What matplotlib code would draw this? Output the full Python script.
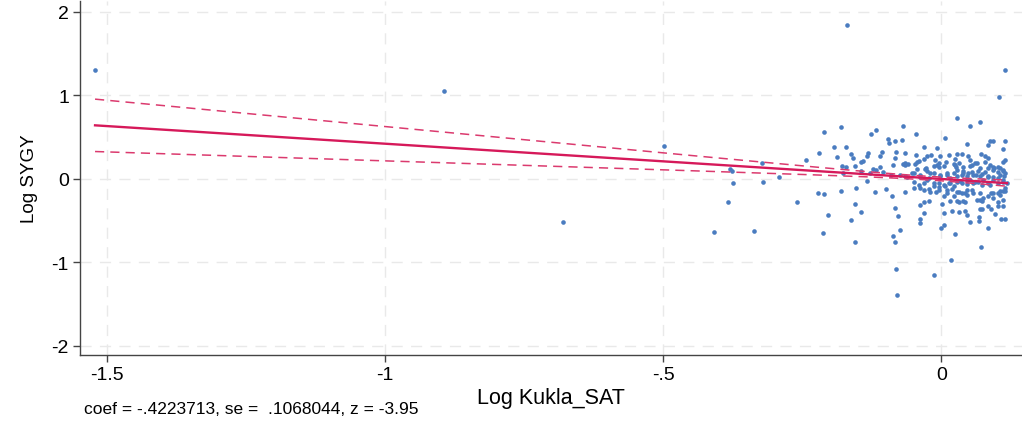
import numpy as np
import matplotlib
matplotlib.use("Agg")
import matplotlib.pyplot as plt

plt.rcParams['font.family'] = ['Liberation Sans', 'DejaVu Sans']

# residual scatter (added-variable plot)
x_vals = [
    -1.521, -0.894, -0.680, -0.499, -0.408, -0.336, -0.384, -0.259, -0.323, -0.379,
    -0.377, -0.375, -0.320, -0.291, -0.169, 0.115, 0.104, 0.029, 0.052, 0.070,
    -0.180, -0.210, -0.126, -0.118, -0.068, -0.045, 0.007, 0.088, 0.092, 0.115,
    -0.095, -0.094, -0.083, -0.071, 0.047, 0.083, -0.193, -0.171, -0.032, -0.007,
    0.110, -0.219, -0.187, -0.163, -0.158, -0.131, -0.133, -0.107, -0.111, -0.081,
    -0.083, -0.066, -0.046, -0.019, -0.025, -0.002, 0.014, 0.029, 0.038, 0.048,
    0.072, 0.079, 0.083, 0.115, 0.111, -0.244, -0.031, -0.011, 0.025, 0.052,
    -0.178, -0.171, -0.156, -0.144, -0.141, -0.111, -0.118, -0.123, -0.145, -0.176,
    -0.129, -0.086, -0.068, -0.059, -0.043, -0.043, -0.029, -0.025, -0.013, -0.007,
    -0.004, 0.009, 0.025, 0.032, 0.027, 0.039, 0.052, 0.061, 0.066, 0.083,
    0.092, 0.095, 0.106, 0.111, 0.113, -0.104, -0.090, -0.065, -0.050, -0.038,
    -0.025, -0.020, -0.002, 0.011, 0.022, 0.029, 0.039, 0.047, 0.052, 0.057,
    0.070, 0.075, 0.084, 0.093, 0.102, 0.110, 0.101, 0.084, 0.074, 0.061,
    0.047, 0.034, 0.023, 0.014, -0.221, -0.210, -0.180, -0.153, -0.133, -0.120,
    -0.099, -0.089, -0.066, -0.050, -0.039, -0.023, -0.005, -0.009, 0.007, 0.032,
    0.043, 0.056, 0.070, 0.090, 0.106, 0.118, -0.156, -0.144, -0.163, -0.203,
    -0.212, -0.156, -0.084, -0.077, -0.074, -0.086, -0.083, -0.081, -0.079, -0.038,
    -0.039, -0.038, -0.031, -0.031, -0.023, 0.002, 0.004, 0.000, 0.005, 0.016,
    0.020, 0.029, 0.032, 0.039, 0.043, 0.047, 0.052, 0.025, 0.070, 0.074,
    0.068, 0.068, 0.083, 0.074, 0.090, 0.097, 0.102, 0.111, 0.108, 0.115,
    0.084, 0.072, 0.018, -0.014, 0.070, 0.075, 0.083, 0.093, 0.102, 0.110,
    0.101, 0.110, 0.115, 0.038, 0.047, 0.057, 0.029, 0.020, 0.011, -0.005,
    -0.014, -0.032, -0.066, -0.065, -0.047, -0.041, -0.027, -0.005, 0.005, 0.023,
    0.029, 0.039, 0.048, 0.056, 0.063, 0.074, 0.083, 0.093, 0.106, 0.111,
    0.088, 0.066, 0.057, 0.047, 0.038, 0.029, 0.016, 0.004, -0.005, -0.014,
    -0.020, -0.032, -0.041, -0.050, 0.011, 0.022, 0.047, 0.093, 0.106, 0.115,
    0.065, 0.043, 0.031, 0.004, 0.016, 0.038, 0.070, 0.079, 0.092, 0.101,
    0.110, 0.115, 0.102, 0.088, 0.065, 0.056, 0.079, 0.011, -0.002, -0.014,
    -0.023, -0.038, -0.052, -0.061, -0.074,
]
y_vals = [
    1.30, 1.05, -0.51, 0.39, -0.63, -0.62, -0.27, -0.27, 0.19, 0.12,
    0.10, -0.05, -0.04, 0.02, 1.85, 1.30, 0.98, 0.73, 0.63, 0.68,
    0.62, 0.56, 0.54, 0.59, 0.64, 0.54, 0.49, 0.45, 0.45, 0.45,
    0.48, 0.43, 0.45, 0.47, 0.42, 0.41, 0.38, 0.38, 0.38, 0.37,
    0.36, 0.31, 0.26, 0.30, 0.25, 0.31, 0.27, 0.32, 0.28, 0.32,
    0.25, 0.31, 0.29, 0.29, 0.27, 0.27, 0.29, 0.30, 0.30, 0.28,
    0.30, 0.27, 0.25, 0.23, 0.20, 0.23, 0.24, 0.23, 0.24, 0.23,
    0.16, 0.14, 0.15, 0.20, 0.22, 0.14, 0.11, 0.12, 0.10, 0.07,
    0.07, 0.17, 0.18, 0.18, 0.20, 0.12, 0.12, 0.10, 0.16, 0.17,
    0.14, 0.20, 0.17, 0.19, 0.14, 0.10, 0.15, 0.19, 0.09, 0.13,
    0.14, 0.13, 0.13, 0.09, 0.03, 0.08, 0.05, 0.03, 0.07, 0.02,
    -0.01, 0.07, 0.03, 0.05, 0.07, 0.03, 0.07, 0.03, -0.01, 0.05,
    0.03, -0.01, 0.03, -0.01, 0.01, -0.04, -0.05, -0.05, -0.07, -0.04,
    -0.06, -0.03, -0.09, -0.05, -0.17, -0.18, -0.14, -0.11, -0.02, -0.16,
    -0.12, -0.20, -0.16, -0.04, -0.11, -0.12, -0.05, -0.16, -0.08, -0.16,
    -0.17, -0.13, -0.17, -0.17, -0.14, -0.05, -0.30, -0.39, -0.49, -0.43,
    -0.65, -0.75, -0.35, -0.44, -0.61, -0.68, -0.75, -1.08, -1.39, -0.31,
    -0.48, -0.53, -0.41, -0.27, -0.26, -0.30, -0.41, -0.59, -0.55, -0.26,
    -0.38, -0.26, -0.39, -0.26, -0.38, -0.43, -0.51, -0.66, -0.36, -0.36,
    -0.45, -0.50, -0.32, -0.26, -0.36, -0.42, -0.32, -0.32, -0.48, -0.48,
    -0.59, -0.82, -0.97, -1.15, -0.25, -0.23, -0.21, -0.23, -0.27, -0.25,
    -0.17, -0.15, -0.11, -0.17, -0.13, -0.17, -0.16, -0.12, -0.13, -0.10,
    -0.05, -0.05, 0.17, 0.19, 0.18, 0.22, 0.13, 0.19, 0.16, 0.18,
    0.11, 0.14, 0.07, 0.08, 0.05, 0.06, 0.02, 0.02, 0.05, -0.01,
    -0.07, -0.04, -0.05, -0.01, -0.05, -0.04, -0.05, -0.07, -0.13, -0.09,
    -0.16, -0.13, -0.07, -0.11, -0.17, -0.21, -0.19, -0.17, -0.19, -0.15,
    -0.25, -0.27, -0.27, -0.21, 0.01, 0.05, 0.13, 0.08, 0.11, 0.08,
    0.11, 0.07, 0.14, 0.17, 0.19, 0.17, 0.20, 0.07, 0.05, 0.07,
    0.01, 0.05, 0.07, 0.02, 0.05,
]

coef = -0.4223713
se = 0.1068044
z = -3.95
se_at_mean = 0.011   # standard error of the fit at the mean of x

x_ticks = [-1.5, -1, -0.5, 0]
x_ticklabels = ["-1.5", "-1", "-.5", "0"]
y_ticks = [-2, -1, 0, 1, 2]
y_ticklabels = ["-2", "-1", "0", "1", "2"]

x = np.array(x_vals)
y = np.array(y_vals)

fig = plt.figure(figsize=(10.22, 4.27), dpi=100)
ax = fig.add_axes([0.0783, 0.166, 0.9217, 0.829])

ax.scatter(x, y, s=11, marker='o', color='#4a7cc0', linewidths=0, zorder=3)

# fitted line + 95% CI
xs = np.linspace(x.min(), x.max(), 200)
fit = coef * xs
half = 1.96 * np.sqrt(se_at_mean ** 2 + ((xs - x.mean()) * se) ** 2)
ax.plot(xs, fit, color='#d6195a', lw=1.7, zorder=4)
ax.plot(xs, fit + half, color='#db3a6e', lw=1.1, ls=(0, (6, 4)), zorder=4)
ax.plot(xs, fit - half, color='#db3a6e', lw=1.1, ls=(0, (6, 4)), zorder=4)

ax.set_xlim(-1.548, 0.145)
ax.set_ylim(-2.11, 2.13)
ax.set_xticks(x_ticks)
ax.set_xticklabels(x_ticklabels)
ax.set_yticks(y_ticks)
ax.set_yticklabels(y_ticklabels)
ax.grid(True, color='#e9e9e9', lw=1.0, ls=(0, (8, 6)))
ax.set_axisbelow(True)
for s in ['top', 'right']:
    ax.spines[s].set_visible(False)
for s in ['left', 'bottom']:
    ax.spines[s].set_color('#444444')
    ax.spines[s].set_linewidth(1.0)
ax.tick_params(direction='out', length=5, width=1, color='#444444',
               labelsize=14, pad=3)

ax.set_xlabel("Log Kukla_SAT", fontsize=15.5, labelpad=3)
ax.set_ylabel("Log SYGY", fontsize=13.5, labelpad=10)

fig.text(0.082, 0.04, "coef = -.4223713, se =  .1068044, z = -3.95", fontsize=12.5,
         va='center', ha='left')

fig.savefig("out.png", dpi=100)
